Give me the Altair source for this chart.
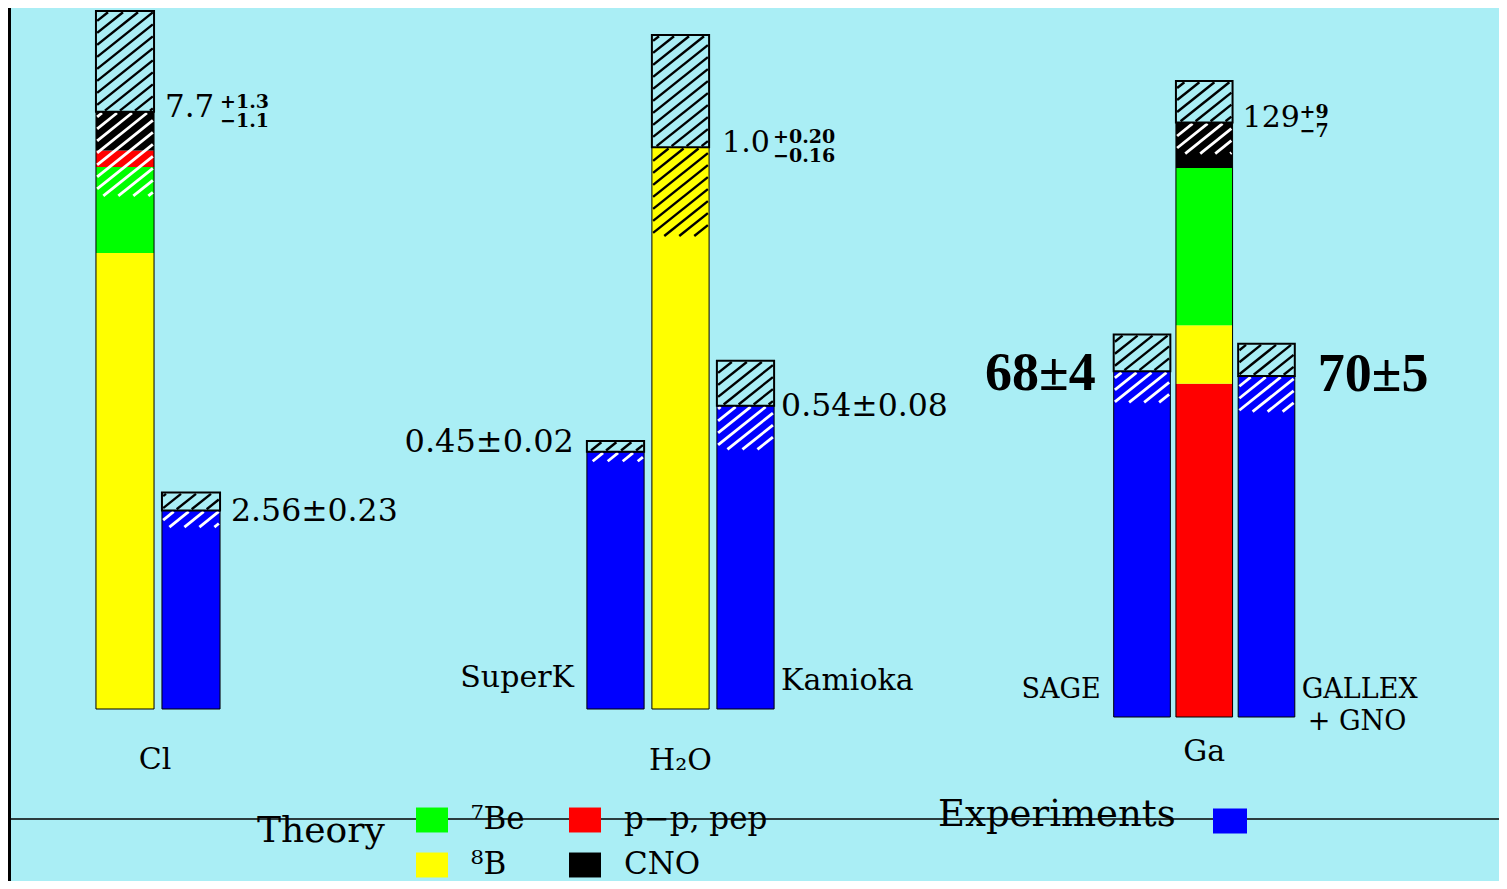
import altair as alt
import numpy as np
import pandas as pd

# ---------------- data ----------------
# legend order (Vega fills the 2-column grid column by column)
COMPONENTS = ["⁷Be", "⁸B", "p−p, pep", "CNO"]
COMPONENT_COLORS = ["#00FF00", "#FFFF00", "#FF0000", "#000000"]
EXP_KIND = ["Experiments"]
EXP_COLOR = ["#0000FF"]

# Chlorine (SNU): bar order [theory, experiment]
CL_COMP = ["⁸B", "⁷Be", "p−p, pep", "CNO"]
CL_COMP_VAL = [5.88, 1.11, 0.21, 0.50]
CL_THEORY_ERR = [1.3, 1.1]
CL_EXP_VAL = [2.56]
CL_EXP_ERR = [[0.23, 0.23]]
CL_TEXT = ["7.7", "+1.3", "−1.1", "2.56±0.23", "Cl"]

# Water (ratio to theory): bar order [SuperK, theory, Kamioka]
H2O_COMP = ["⁸B"]
H2O_COMP_VAL = [1.0]
H2O_THEORY_ERR = [0.20, 0.16]
H2O_EXP_VAL = [0.458, 0.54]
H2O_EXP_ERR = [[0.019, 0.019], [0.08, 0.08]]
H2O_TEXT = ["1.0", "+0.20", "−0.16", "0.45±0.02", "0.54±0.08", "SuperK", "Kamioka", "H₂O"]

# Gallium (SNU): bar order [SAGE, theory, GALLEX+GNO]
GA_COMP = ["p−p, pep", "⁸B", "⁷Be", "CNO"]
GA_COMP_VAL = [72.3, 12.7, 34.1, 9.9]
GA_THEORY_ERR = [9, 7]
GA_EXP_VAL = [75, 74]
GA_EXP_ERR = [[8, 7], [7, 8]]
GA_TEXT = ["129", "+9", "−7", "68±4", "70±5", "SAGE", "GALLEX", "+ GNO", "Ga"]

# ---------------- layout / style ----------------
BG = "#AAEEF5"
FONT = "DejaVu Serif"
BOLD_FONT = "Liberation Serif"
W, H = 1491, 873
HATCH_SLOPE = 0.8
HATCH_GAP = 12.0

LAYOUT = {
    "Cl": dict(n=2, xr=[84, 216], yr=[701, 3], hw=0.44),
    "H2O": dict(n=3, xr=[575, 770], yr=[701, 27], hw=0.44),
    "Ga": dict(n=3, xr=[1102.9, 1289.6], yr=[709, 73], hw=0.455),
}

theory_legend = alt.Legend(
    title="Theory", orient="none", legendX=249, legendY=796, columns=2,
    titleOrient="left", titleFont=FONT, titleFontSize=36, titleFontWeight="normal",
    titleColor="black", titlePadding=31, titleLimit=400, titleBaseline="alphabetic",
    labelFont=FONT, labelFontSize=31, labelColor="black", labelOffset=23, labelLimit=400,
    symbolType="M-1,-0.78H1V0.78H-1Z", symbolSize=1024, symbolStrokeWidth=0, symbolOpacity=1,
    columnPadding=44, rowPadding=14, padding=0,
)
exp_legend = alt.Legend(
    title="Experiments", orient="none", legendX=930, legendY=796,
    titleOrient="left", titleFont=FONT, titleFontSize=37, titleFontWeight="normal",
    titleColor="black", titlePadding=37, titleLimit=400,
    titleBaseline="line-bottom", titleLineHeight=8,
    labelExpr="''", labelOffset=0,
    symbolType="M-1,-0.735H1V0.735H-1Z", symbolSize=1156, symbolStrokeWidth=0, symbolOpacity=1,
    padding=0,
)


def hatch_rows(x0, x1, y0, y1, kx, ky, dom0, inset=1.2):
    X0 = (x0 - dom0) * kx + inset
    X1 = (x1 - dom0) * kx - inset
    Y0 = y0 * ky + inset
    Y1 = y1 * ky - inset
    rows = []
    kmin = int(np.floor((Y0 - HATCH_SLOPE * X1) / HATCH_GAP))
    kmax = int(np.ceil((Y1 - HATCH_SLOPE * X0) / HATCH_GAP))
    for k in range(kmin, kmax + 1):
        c = k * HATCH_GAP
        xa = max(X0, (Y0 - c) / HATCH_SLOPE)
        xb = min(X1, (Y1 - c) / HATCH_SLOPE)
        if xb - xa > 1.0:
            rows.append(dict(x=xa / kx + dom0, x2=xb / kx + dom0,
                             y=(HATCH_SLOPE * xa + c) / ky, y2=(HATCH_SLOPE * xb + c) / ky))
    return rows


def build_group(key, theory_idx, comps, vals, terr, exp_idx, exps, eerrs, lower_color, labels):
    lay = LAYOUT[key]
    n, hw = lay["n"], lay["hw"]
    total = float(np.sum(vals))
    ymax = total + terr[0]
    xs = alt.Scale(domain=[-0.5, n - 0.5], range=lay["xr"], nice=False, zero=False)
    ys = alt.Scale(domain=[0, ymax], range=lay["yr"], nice=False, zero=False)
    kx = (lay["xr"][1] - lay["xr"][0]) / n
    ky = (lay["yr"][0] - lay["yr"][1]) / ymax

    def enc(ch):
        return ch.encode(
            x=alt.X("x:Q", scale=xs, axis=None), x2="x2:Q",
            y=alt.Y("y:Q", scale=ys, axis=None), y2="y2:Q",
        )

    # theory stacked segments
    cum = np.concatenate([[0.0], np.cumsum(vals)])
    seg = pd.DataFrame(dict(comp=comps, x=theory_idx - hw, x2=theory_idx + hw,
                            y=cum[:-1], y2=cum[1:]))
    theory = enc(alt.Chart(seg).mark_rect()).encode(
        color=alt.Color("comp:N", scale=alt.Scale(domain=COMPONENTS, range=COMPONENT_COLORS),
                        legend=theory_legend))
    # experiment bars
    ex = pd.DataFrame(dict(kind=EXP_KIND * len(exps), x=[i - hw for i in exp_idx],
                           x2=[i + hw for i in exp_idx], y=[0.0] * len(exps), y2=exps))
    expb = enc(alt.Chart(ex).mark_rect()).encode(
        fill=alt.Fill("kind:N", scale=alt.Scale(domain=EXP_KIND, range=EXP_COLOR),
                      legend=exp_legend))
    # thin outlines of the bars
    outl = pd.DataFrame(dict(x=[theory_idx - hw] + [i - hw for i in exp_idx],
                             x2=[theory_idx + hw] + [i + hw for i in exp_idx],
                             y=[0.0] * (1 + len(exps)), y2=[total] + list(exps)))
    outline = enc(alt.Chart(outl).mark_rect(filled=False, stroke="black", strokeWidth=1))

    # lower hatches (inside the bars)
    low_t = hatch_rows(theory_idx - hw, theory_idx + hw, total - terr[1], total, kx, ky, -0.5)
    low_e = []
    for i, v, e in zip(exp_idx, exps, eerrs):
        low_e += hatch_rows(i - hw, i + hw, v - e[1], v, kx, ky, -0.5)
    white_rows = low_e + (low_t if lower_color == "white" else [])
    black_low = low_t if lower_color == "black" else []

    # upper error boxes
    boxes = pd.DataFrame(dict(x=[theory_idx - hw] + [i - hw for i in exp_idx],
                              x2=[theory_idx + hw] + [i + hw for i in exp_idx],
                              y=[total] + list(exps),
                              y2=[total + terr[0]] + [v + e[0] for v, e in zip(exps, eerrs)]))
    top_rows = []
    for _, r in boxes.iterrows():
        top_rows += hatch_rows(r.x, r.x2, r.y, r.y2, kx, ky, -0.5)

    layers = [theory, expb, outline]
    layers.append(enc(alt.Chart(pd.DataFrame(white_rows)).mark_rule(color="white", strokeWidth=2.8)))
    if black_low:
        layers.append(enc(alt.Chart(pd.DataFrame(black_low)).mark_rule(color="black", strokeWidth=2.4)))
    layers.append(enc(alt.Chart(boxes).mark_rect(fill=BG, strokeWidth=0)))
    layers.append(enc(alt.Chart(pd.DataFrame(top_rows)).mark_rule(color="black", strokeWidth=2.4)))
    layers.append(enc(alt.Chart(boxes).mark_rect(filled=False, stroke="black", strokeWidth=2)))

    # text labels
    for (txt, xv, yv, dx, dy, size, align, font, weight) in labels:
        df = pd.DataFrame(dict(t=[txt], x=[xv], y=[yv]))
        layers.append(alt.Chart(df).mark_text(
            font=font, fontSize=size, fontWeight=weight, align=align, baseline="middle",
            dx=dx, dy=dy, color="black").encode(
            x=alt.X("x:Q", scale=xs, axis=None), y=alt.Y("y:Q", scale=ys, axis=None),
            text="t:N"))
    return alt.layer(*layers)


hw = LAYOUT["Cl"]["hw"]
cl_total = float(np.sum(CL_COMP_VAL))
cl = build_group(
    "Cl", 0, CL_COMP, CL_COMP_VAL, CL_THEORY_ERR, [1], CL_EXP_VAL, CL_EXP_ERR, "white",
    [
        (CL_TEXT[0], 0 + hw, cl_total, 11, -4, 31, "left", FONT, "normal"),
        (CL_TEXT[1], 0 + hw, cl_total, 66, -10, 19, "left", FONT, "bold"),
        (CL_TEXT[2], 0 + hw, cl_total, 66, 9, 19, "left", FONT, "bold"),
        (CL_TEXT[3], 1 + hw, CL_EXP_VAL[0], 11, 2, 31.5, "left", FONT, "normal"),
        (CL_TEXT[4], 0.5, 0, -3, 51, 30, "center", FONT, "normal"),
    ])

hw = LAYOUT["H2O"]["hw"]
h2o_total = float(np.sum(H2O_COMP_VAL))
h2o = build_group(
    "H2O", 1, H2O_COMP, H2O_COMP_VAL, H2O_THEORY_ERR, [0, 2], H2O_EXP_VAL, H2O_EXP_ERR, "black",
    [
        (H2O_TEXT[0], 1 + hw, h2o_total, 13, -4, 30, "left", FONT, "normal"),
        (H2O_TEXT[1], 1 + hw, h2o_total, 64, -10, 19, "left", FONT, "bold"),
        (H2O_TEXT[2], 1 + hw, h2o_total, 64, 9, 19, "left", FONT, "bold"),
        (H2O_TEXT[3], 0 - hw, H2O_EXP_VAL[0], -13, -10, 32, "right", FONT, "normal"),
        (H2O_TEXT[4], 2 + hw, H2O_EXP_VAL[1], 7, 1, 31.5, "left", FONT, "normal"),
        (H2O_TEXT[5], 0 - hw, 0, -13, -31, 30, "right", FONT, "normal"),
        (H2O_TEXT[6], 2 + hw, 0, 7, -28, 30, "left", FONT, "normal"),
        (H2O_TEXT[7], 1, 0, 0, 52, 30, "center", FONT, "normal"),
    ])

hw = LAYOUT["Ga"]["hw"]
ga_total = float(np.sum(GA_COMP_VAL))
ga = build_group(
    "Ga", 1, GA_COMP, GA_COMP_VAL, GA_THEORY_ERR, [0, 2], GA_EXP_VAL, GA_EXP_ERR, "white",
    [
        (GA_TEXT[0], 1 + hw, ga_total, 10, -4, 30, "left", FONT, "normal"),
        (GA_TEXT[1], 1 + hw, ga_total, 67, -10, 19, "left", FONT, "bold"),
        (GA_TEXT[2], 1 + hw, ga_total, 67, 9, 19, "left", FONT, "bold"),
        (GA_TEXT[3], 0 - hw, GA_EXP_VAL[0], -18, 3, 54, "right", BOLD_FONT, "bold"),
        (GA_TEXT[4], 2 + hw, GA_EXP_VAL[1], 23, -1, 54, "left", BOLD_FONT, "bold"),
        (GA_TEXT[5], 0 - hw, 0, -13, -27, 27, "right", FONT, "normal"),
        (GA_TEXT[6], 2 + hw, 0, 7, -27, 27, "left", FONT, "normal"),
        (GA_TEXT[7], 2 + hw, 0, 13, 5, 27, "left", FONT, "normal"),
        (GA_TEXT[8], 1, 0, 0, 35, 30, "center", FONT, "normal"),
    ])

one = pd.DataFrame({"a": [0]})
hline = alt.Chart(one).mark_rule(color="black", strokeWidth=1.5).encode(
    x=alt.value(0), x2=alt.value(W), y=alt.value(811))
vline = alt.Chart(one).mark_rule(color="black", strokeWidth=3).encode(
    x=alt.value(1.5), y=alt.value(0), y2=alt.value(H))

chart = alt.layer(cl, h2o, ga, hline, vline).resolve_scale(
    x="independent", y="independent"
).properties(
    width=W, height=H, background=BG, padding=0,
    autosize=alt.AutoSizeParams(type="none"),
).configure_view(stroke="transparent")

chart.save("out.html", embed_options={"renderer": "svg", "actions": False})
